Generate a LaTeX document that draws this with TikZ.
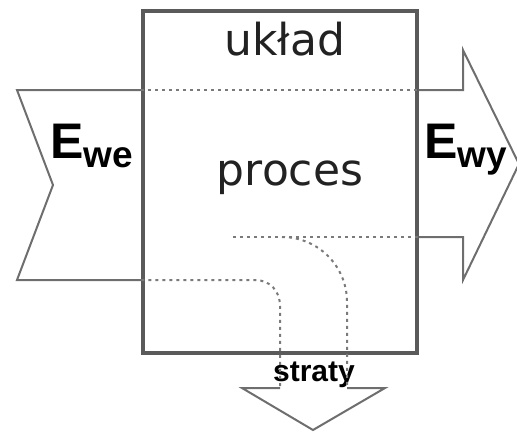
\documentclass[tikz,border=0pt]{standalone}
\usepackage{fontspec}
\setmainfont{DejaVu Sans}
\newfontfamily\boldsans{Liberation Sans}
\usetikzlibrary{positioning,calc}
\definecolor{frame}  {HTML}{5A5A5A}
\definecolor{flow}   {HTML}{6E6E6E}
\definecolor{hint}   {HTML}{7A7A7A}
\definecolor{ink}    {HTML}{222222}

\begin{document}
\begin{tikzpicture}[x=1pt, y=-1pt,
   systembox/.style={draw=frame, line width=3.2pt, minimum width=274pt, minimum height=342pt,
                     inner sep=0pt},
   flowline/.style={draw=flow, line width=2pt, line join=miter},
   pathhint/.style={draw=hint, line width=2pt, dash pattern=on 3pt off 4pt},
   title/.style={font=\fontsize{44}{48}\selectfont, text=ink, inner sep=0pt},
   energy/.style={font=\boldsans\bfseries\fontsize{50}{50}\selectfont, inner sep=0pt}
]
\useasboundingbox (0,0) rectangle (517,432);
\node[systembox] (box) at (280,182) {};
\node[title, anchor=base] (uklad) at (285,55) {układ};
\node[title, anchor=base] (proces) at (290,185) {proces};
\node[energy, anchor=base west] (ewe) at (50,158)
  {E\raisebox{-9pt}{\fontsize{37}{37}\selectfont we}};
\node[energy, anchor=base west] (ewy) at (424,158)
  {E\raisebox{-9pt}{\fontsize{37}{37}\selectfont wy}};
\node[font=\boldsans\bfseries\fontsize{30}{30}\selectfont, inner sep=0pt, anchor=base]
  (straty) at (314,381) {straty};

% wejscie
\coordinate (inTop) at (box.west |- 0,90);
\coordinate (inBot) at (box.west |- 0,280);
\draw[flowline] (inTop) -- (17,90) -- (53,185) -- (17,280) -- (inBot);
% wyjscie
\coordinate (outTop) at (box.east |- 0,90);
\coordinate (outBot) at (box.east |- 0,237);
\draw[flowline] (outTop) -- (463,90) -- (463,50) -- (519,164) -- (463,280)
  -- (463,237) -- (outBot);
% straty
\draw[flowline] (280,388) -- (242,388) -- (313,430) -- (385,388) -- (347,388);

% drogi energii
\draw[pathhint] (inTop) -- (outTop);
\draw[pathhint] (inBot) -- (255,280) .. controls (270,280) and (280,291) .. (280,306)
  -- (280,388);
\draw[pathhint] (233,237) -- (outBot);
\draw[pathhint] (282,237) .. controls (318,237) and (347,266) .. (347,302) -- (347,388);
\end{tikzpicture}
\end{document}
